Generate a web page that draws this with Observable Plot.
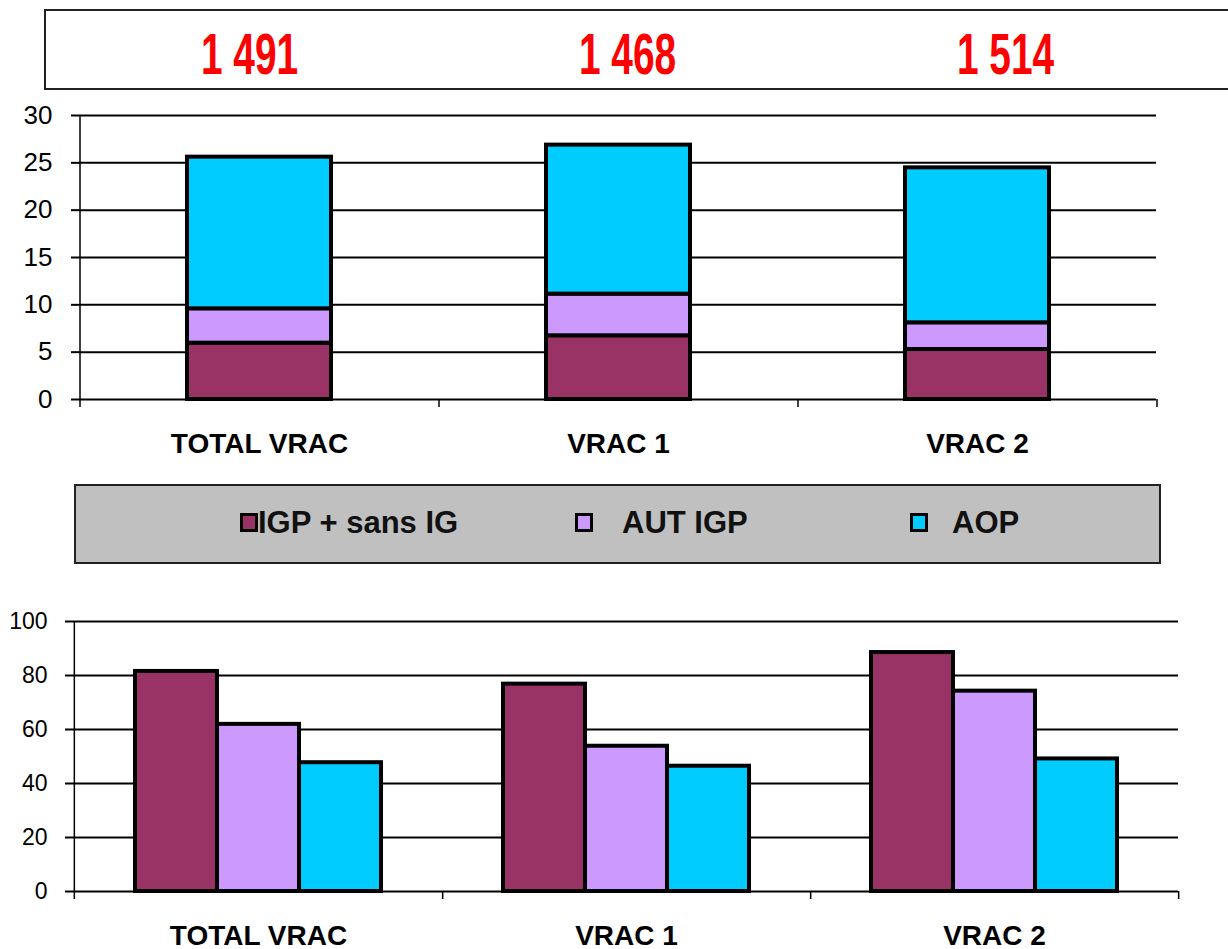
<!DOCTYPE html>
<html><head><meta charset="utf-8">
<script src="https://cdn.jsdelivr.net/npm/d3@7"></script>
<script src="https://cdn.jsdelivr.net/npm/@observablehq/plot@0.6"></script>
<style>
body{margin:0;background:#fff;font-family:"Liberation Sans",Arial,sans-serif;}
#root{position:relative;width:1228px;height:949px;overflow:hidden;background:#fff;}
#totals{position:absolute;left:44px;top:9px;width:1220px;height:81px;border:2px solid #222;box-sizing:border-box;}
#totals .row{position:absolute;left:14px;width:1135px;top:0;height:77px;display:flex;}
#totals .cell{flex:1;text-align:center;line-height:86px;}
#totals .num{display:inline-block;color:#ff0000;font-family:"Liberation Sans",Arial,sans-serif;font-weight:bold;font-size:58px;transform:scaleX(0.67);}
#legend{position:absolute;left:74px;top:484px;width:1087px;height:80px;background:#c0c0c0;border:2px solid #222;box-sizing:border-box;}
#legend .sw{position:absolute;top:27px;width:18px;height:19px;border:3px solid #000;box-sizing:border-box;}
#legend .lab{position:absolute;top:20px;font-weight:bold;font-size:31px;line-height:34px;white-space:nowrap;color:#111;}
.chart{position:absolute;left:0;}
.chart svg{overflow:visible;}
.xlab text{font-weight:bold;}
</style>
</head><body>
<div id="root">
  <div id="totals"><div class="row"></div></div>
  <div id="c1" class="chart" style="top:100px"></div>
  <div id="legend"></div>
  <div id="c2" class="chart" style="top:600px"></div>
</div>
<script>
// ---- data ----
const categories = ["TOTAL VRAC", "VRAC 1", "VRAC 2"];
const series = ["IGP + sans IG", "AUT IGP", "AOP"];
const colors = ["#993366", "#CC99FF", "#00CCFF"];
const totals = ["1 491", "1 468", "1 514"];
// top chart (stacked)
const stackIGP = [5.95, 6.73, 5.28];
const stackAUT = [3.63, 4.40, 2.82];
const stackAOP = [16.02, 15.74, 16.37];
const ticksTop = [0, 5, 10, 15, 20, 25, 30];
// bottom chart (grouped)
const groupIGP = [81.5, 76.8, 88.5];
const groupAUT = [61.9, 53.8, 74.2];
const groupAOP = [47.7, 46.4, 49.1];
const ticksBottom = [0, 20, 40, 60, 80, 100];

const W = 1228;
const font = "'Liberation Sans', Arial, sans-serif";

// ---- totals box ----
const row = document.querySelector("#totals .row");
totals.forEach(t => {
  const c = document.createElement("div"); c.className = "cell";
  const s = document.createElement("span"); s.className = "num"; s.textContent = t;
  c.appendChild(s); row.appendChild(c);
});

// ---- top chart ----
const stackVals = [stackIGP, stackAUT, stackAOP];
const stacked = [];
categories.forEach((cat, i) => series.forEach((s, j) => stacked.push({cat, series: s, value: stackVals[j][i]})));
const ml1 = 79, mr1 = 72;
const step1 = (W - ml1 - mr1) / categories.length;
const px1 = 284 / 30; // pixels per unit
const chart1 = Plot.plot({
  width: W, height: 370, marginTop: 15, marginBottom: 71, marginLeft: ml1, marginRight: mr1,
  style: {fontFamily: font, background: "transparent", color: "#000"},
  x: {domain: categories, paddingInner: 0.6, paddingOuter: 0.3, label: null},
  y: {domain: [0, 30], label: null},
  color: {domain: series, range: colors},
  marks: [
    Plot.ruleY(ticksTop, {stroke: "#000", strokeWidth: 2}),
    Plot.barY(stacked, {x: "cat", y: "value", fill: "series", stroke: "#000", strokeWidth: 4}),
    Plot.ruleX([categories[0]], {x: d => d, dx: -step1 / 2, y1: 30, y2: -8 / px1, stroke: "#000", strokeWidth: 1.5}),
    Plot.ruleX(categories, {x: d => d, dx: step1 / 2, y1: 0, y2: -8 / px1, stroke: "#000", strokeWidth: 1.5}),
    Plot.axisY({ticks: ticksTop, tickSize: 8, tickPadding: 19, fontSize: 26, strokeWidth: 2, label: null, tickFormat: d => String(d)}),
    Plot.axisX({tickSize: 0, tickPadding: 34, fontSize: 28, fontWeight: "bold", label: null, className: "xlab"})
  ]
});
document.getElementById("c1").appendChild(chart1);

// ---- legend ----
const legend = document.getElementById("legend");
const swLeft = [164, 499, 834];
const labLeft = [182, 546, 876];
series.forEach((s, j) => {
  const sw = document.createElement("div"); sw.className = "sw";
  sw.style.left = swLeft[j] + "px"; sw.style.background = colors[j];
  const lb = document.createElement("div"); lb.className = "lab";
  lb.style.left = labLeft[j] + "px"; lb.textContent = s;
  legend.appendChild(sw); legend.appendChild(lb);
});

// ---- bottom chart ----
const groupVals = [groupIGP, groupAUT, groupAOP];
const ml2 = 73, mr2 = 50;
const step2 = (W - ml2 - mr2) / categories.length;
const padIn2 = 0.332;
const bw2 = step2 * (1 - padIn2);
const barW = bw2 / series.length;
const px2 = 270 / 100;
const bars2 = series.map((s, j) => Plot.barY(
  categories.map((cat, i) => ({cat, series: s, value: groupVals[j][i]})),
  {x: "cat", y: "value", fill: "series", stroke: "#000", strokeWidth: 4,
   insetLeft: j * barW, insetRight: (series.length - 1 - j) * barW}
));
const chart2 = Plot.plot({
  width: W, height: 349, marginTop: 21, marginBottom: 58, marginLeft: ml2, marginRight: mr2,
  style: {fontFamily: font, background: "transparent", color: "#000"},
  x: {domain: categories, paddingInner: padIn2, paddingOuter: padIn2 / 2, label: null},
  y: {domain: [0, 100], label: null},
  color: {domain: series, range: colors},
  marks: [
    Plot.ruleY(ticksBottom, {stroke: "#000", strokeWidth: 2}),
    ...bars2,
    Plot.ruleX([categories[0]], {x: d => d, dx: -step2 / 2, y1: 100, y2: -8 / px2, stroke: "#000", strokeWidth: 1.5}),
    Plot.ruleX(categories, {x: d => d, dx: step2 / 2, y1: 0, y2: -8 / px2, stroke: "#000", strokeWidth: 1.5}),
    Plot.axisY({ticks: ticksBottom, tickSize: 8, tickPadding: 18, fontSize: 23, strokeWidth: 2, label: null, tickFormat: d => String(d)}),
    Plot.axisX({tickSize: 0, tickPadding: 34, fontSize: 28, fontWeight: "bold", label: null, className: "xlab"})
  ]
});
document.getElementById("c2").appendChild(chart2);
</script>
</body></html>
